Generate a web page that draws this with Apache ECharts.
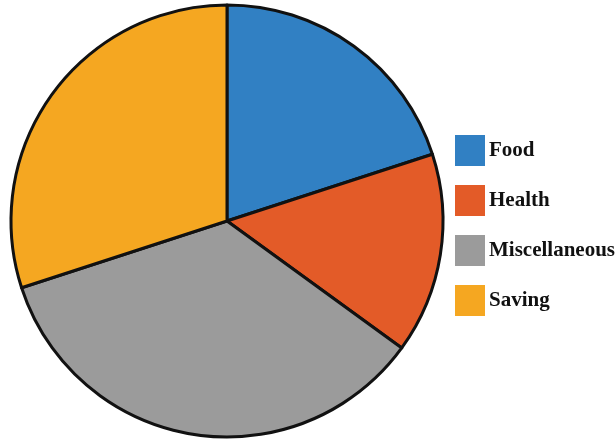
<!DOCTYPE html>
<html><head><meta charset="utf-8">
<script src="https://cdn.jsdelivr.net/npm/echarts@6/dist/echarts.min.js"></script>
<style>html,body{margin:0;padding:0;background:#fff}#c{width:615px;height:440px}</style>
</head><body><div id="c"></div>
<script>
const categories = ['Food', 'Health', 'Miscellaneous', 'Saving'];
const values = [20, 15, 35, 30];
const colors = ['#3180c3', '#e35b28', '#9b9b9b', '#f5a721'];

const chart = echarts.init(document.getElementById('c'), null, {renderer: 'canvas'});
chart.setOption({
  animation: false,
  backgroundColor: '#ffffff',
  legend: {
    orient: 'vertical',
    left: 450, top: 130,
    itemWidth: 30, itemHeight: 31, itemGap: 19,
    icon: 'rect',
    itemStyle: {borderWidth: 0},
    textStyle: {fontFamily: 'Liberation Serif', fontWeight: 'bold', fontSize: 21, color: '#111', padding: [0,0,0,-1]},
    data: categories
  },
  series: [{
    type: 'pie',
    center: [227, 221],
    radius: 216,
    startAngle: 90,
    clockwise: true,
    label: {show: false},
    labelLine: {show: false},
    itemStyle: {borderColor: '#111', borderWidth: 3},
    emphasis: {disabled: true},
    data: categories.map((c, i) => ({name: c, value: values[i], itemStyle: {color: colors[i]}}))
  }]
});
</script></body></html>
